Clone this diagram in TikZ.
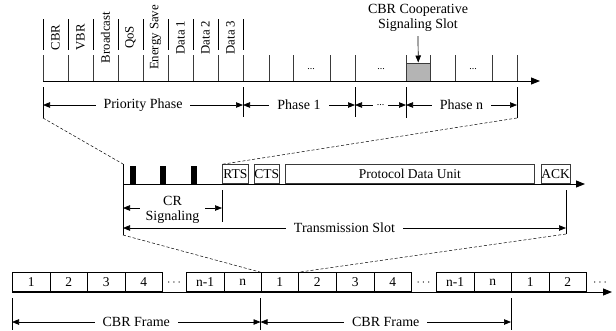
\documentclass[tikz,border=0pt]{standalone}
\usepackage{fontspec}
\setmainfont{Liberation Serif}
\usetikzlibrary{arrows.meta, positioning, calc}
\definecolor{slotgray}{HTML}{B4B4B4}
\definecolor{edgegray}{HTML}{3A3A3A}

\tikzset{
  timeaxis/.style={line width=0.9pt, -{Triangle[length=9pt,width=7pt]}},
  dimline/.style={line width=0.7pt, {Triangle[length=7pt,width=5.5pt]}-{Triangle[length=7pt,width=5.5pt]}},
  dimtext/.style={fill=white, inner xsep=8pt, inner ysep=0pt, font=\fontsize{14}{16}\selectfont},
  bound/.style={line width=0.7pt},
  pktbox/.style={draw=edgegray, line width=0.7pt, minimum height=19pt, inner sep=0pt, anchor=south west, font=\fontsize{13.5}{15}\selectfont},
  cbrbox/.style={draw, line width=0.8pt, minimum width=37.5pt, minimum height=19pt, inner sep=0pt, anchor=south west, font=\fontsize{13.5}{15}\selectfont}
}

\begin{document}
\begin{tikzpicture}[x=1pt, y=-1pt]
  \useasboundingbox (0,0) rectangle (616,330);
  % Priority slots with their labels
  \foreach \lbl [count=\i] in {CBR,VBR,Broadcast,QoS,Energy Save,Data 1,Data 2,Data 3}
    \node[rotate=90, inner sep=0pt, font=\fontsize{12.8}{14}\selectfont] (prio\i) at (30.5+25*\i,37.5) {\lbl};
  \foreach \x in {43,68,93,118,143,168,193,218,243}
    \draw[line width=0.6pt] (\x,19) -- (\x,50);
  \foreach \x in {43,68,93,118,143,168,193,218,243,269,293,330,355,406,430,455,492,517}
    \draw[line width=0.5pt, edgegray] (\x,55) -- (\x,81);
  \node[draw=edgegray, fill=slotgray, line width=0.5pt, minimum width=24pt, minimum height=18pt, inner sep=0pt, anchor=south west] (coop) at (406,81) {};
  \draw[timeaxis] (43,81) -- (540,81);
  \foreach \x in {311,381,473}
    \node[font=\fontsize{10}{11}\selectfont] at (\x,69) {...};
  % CBR cooperative slot
  \node[align=center, font=\fontsize{14}{15}\selectfont, inner sep=1pt] (cooplbl) at (418,18) {CBR Cooperative\\Signaling Slot};
  \draw[line width=0.7pt, -{Triangle[length=7pt,width=5.5pt]}] (418,36) -- (coop.north);
  % Phases
  \foreach \x/\b in {43/118,243/117,355/117,406/118,517/118}
    \draw[bound] (\x,87) -- (\x,\b);
  \coordinate (ph0) at (43,105);
  \coordinate (ph1) at (243,105);
  \coordinate (ph2) at (355,105);
  \coordinate (ph3) at (406,105);
  \coordinate (ph4) at (517,105);
  \draw[dimline] (ph0) -- (ph1) node[midway, dimtext] {Priority Phase};
  \draw[dimline] (ph1) -- (ph2) node[midway, dimtext] {Phase 1};
  \draw[dimline] (ph2) -- (ph3) node[midway, dimtext, inner xsep=4pt, font=\fontsize{10}{11}\selectfont] {...};
  \draw[dimline] (ph3) -- (ph4) node[midway, dimtext] {Phase n};
  % Transmission slot
  \foreach \x in {130,160,191}
    \fill (\x,166) rectangle (\x+6,184);
  \node[pktbox, minimum width=26pt] (rts) at (222,184) {RTS};
  \node[pktbox, minimum width=24pt] (cts) at (254,184) {CTS};
  \node[pktbox, minimum width=249pt] (pdu) at (285,184) {Protocol Data Unit};
  \node[pktbox, minimum width=25pt] (ack) at (541,184) {ACK};
  \draw[timeaxis] (123,184) -- (585,184);
  \draw[bound] (123,164) -- (123,235);
  \draw[bound] (222,190) -- (222,222);
  \draw[bound] (566,190) -- (566,234);
  \coordinate (cr0) at (123,208);
  \coordinate (cr1) at (222,208);
  \coordinate (ts0) at (123,228);
  \coordinate (ts1) at (566,228);
  \draw[dimline] (cr0) -- (cr1) node[midway, dimtext, align=center, inner xsep=6pt, yshift=-2pt, font=\fontsize{14}{15}\selectfont] {CR\\Signaling};
  \draw[dimline] (ts0) -- (ts1) node[midway, dimtext] {Transmission Slot};
  % CBR frames
  \foreach \x/\lbl [count=\i] in {12/1,49.5/2,87/3,124.5/4,186/n-1,223.5/n,260.5/1,298/2,336/3,373.5/4,436/n-1,473.5/n,511/1,548.5/2}
    \node[cbrbox] (f\i) at (\x,292) {\lbl};
  \draw[timeaxis] (12,292) -- (612,292);
  \foreach \x in {174,423.5,600}
    \node[font=\fontsize{13}{14}\selectfont] at (\x,283) {$\cdots$};
  \foreach \x in {12,260.5,511}
    \draw[bound] (\x,298) -- (\x,330);
  \coordinate (fr0) at (12,322);
  \coordinate (fr1) at (260.5,322);
  \coordinate (fr2) at (511,322);
  \draw[dimline] (fr0) -- (fr1) node[midway, dimtext] {CBR Frame};
  \draw[dimline] (fr1) -- (fr2) node[midway, dimtext] {CBR Frame};
  % Zoom lines
  \draw[line width=0.5pt, dash pattern=on 3pt off 2pt] (43,118) -- (123,164);
  \draw[line width=0.5pt, dash pattern=on 3pt off 2pt] (517,118) -- (rts.north west);
  \draw[line width=0.5pt, dash pattern=on 3pt off 2pt] (123,235) -- (f7.north west);
  \draw[line width=0.5pt, dash pattern=on 3pt off 2pt] (566,234) -- (f7.north east);
\end{tikzpicture}
\end{document}
